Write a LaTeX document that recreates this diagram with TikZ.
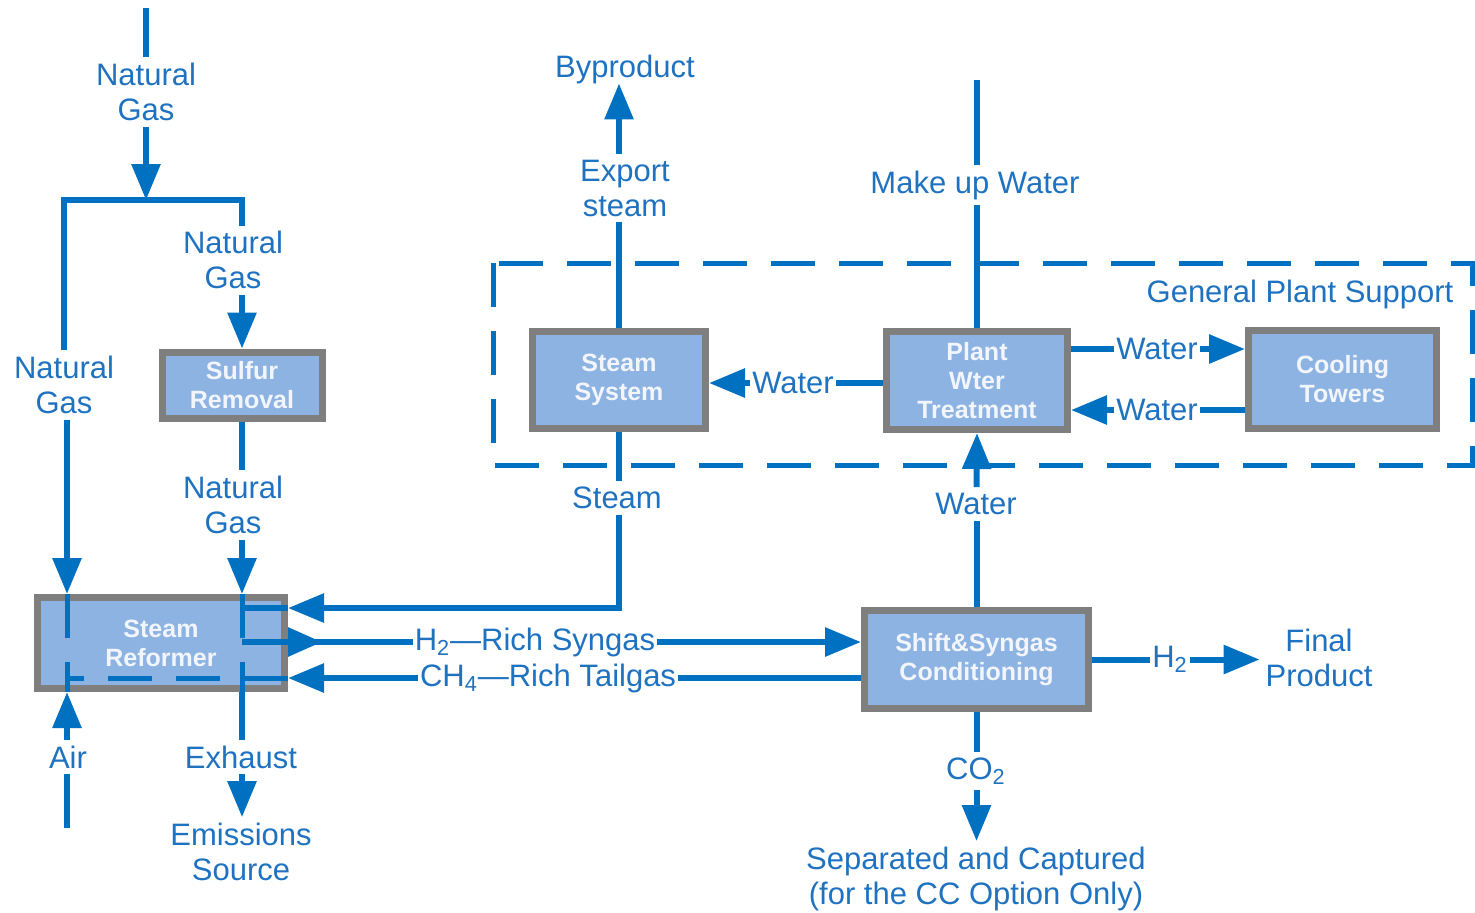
\documentclass[tikz,border=0pt]{standalone}
\usepackage{fontspec}
\setmainfont{Liberation Sans}
\usetikzlibrary{arrows.meta}
\definecolor{lblue}{HTML}{0070C0}
\definecolor{tblue}{HTML}{1F72C0}
\definecolor{boxfill}{HTML}{8DB3E2}
\definecolor{boxedge}{HTML}{7F7F7F}
\definecolor{boxtext}{HTML}{F2F5FB}
\begin{document}
\begin{tikzpicture}[x=0.5pt,y=-0.5pt,
  ln/.style={draw=lblue, line width=3pt},
  arr/.style={ln, -{Triangle[length=18pt,width=14pt]}},
  dsh/.style={draw=lblue, line width=2.5pt, dash pattern=on 22pt off 12pt},
  box/.style={draw=boxedge, fill=boxfill, line width=3.5pt, text=boxtext,
    font=\bfseries\fontsize{12.5}{14.5}\selectfont, align=center, inner sep=0pt},
  lbl/.style={text=tblue, font=\fontsize{15.5}{17.5}\selectfont, align=center,
    inner sep=3pt, outer sep=0pt},
  wlbl/.style={lbl, inner sep=1pt}]
\useasboundingbox (0,0) rectangle (1475,912);

% boxes
\node[box, minimum width=80pt, minimum height=33pt] (sul) at (242,385) {Sulfur\\Removal};
\node[box, minimum width=123.5pt, minimum height=45.5pt] (ref) at (161,643) {Steam\\Reformer};
\node[box, minimum width=86.5pt, minimum height=48.5pt] (ss) at (619,380) {Steam\\System};
\node[box, minimum width=90.5pt, minimum height=49pt] (pwt) at (977,380.5) {Plant\\Wter\\Treatment};
\node[box, minimum width=94pt, minimum height=49pt] (ct) at (1342.5,379.5) {Cooling\\Towers};
\node[box, minimum width=112pt, minimum height=49pt] (sh) at (976.5,659.5) {Shift\&Syngas\\Conditioning};

% helper coordinates
\coordinate (L) at (67,0);
\coordinate (yS) at (0,608);
\coordinate (yH) at (0,642);
\coordinate (yC) at (0,678);
\coordinate (ngtop) at (146,8);
\coordinate (split) at (146,200);
\coordinate (brR) at (242,226);
\coordinate (airbot) at (67,828);
\coordinate (mutop) at (977,80);

% labels
\node[lbl] (ngA) at (146,92) {Natural\\Gas};
\node[lbl] (ngB) at (233,260) {Natural\\Gas};
\node[lbl] (ngC) at (64,385) {Natural\\Gas};
\node[lbl] (ngD) at (233,505) {Natural\\Gas};
\node[lbl] (air) at (68,757) {Air};
\node[lbl] (exh) at (241,757) {Exhaust};
\node[lbl] (emi) at (241,852) {Emissions\\Source};
\node[lbl] (stl) at (617,498) {Steam};
\node[lbl] (exl) at (625,188) {Export\\steam};
\node[lbl, inner sep=0pt] (byp) at (625,69) {Byproduct};
\node[lbl] (mul) at (975,185) {Make up Water};
\node[lbl] (gps) at (1300,294) {General Plant Support};
\node[wlbl] (wl) at (793,383) {Water};
\node[wlbl] (wu) at (1157,349) {Water};
\node[wlbl] (wd) at (1157,410) {Water};
\node[lbl] (wup) at (976,504) {Water};
\node[wlbl] (h2s) at (535,642) {H\textsubscript{2}—Rich Syngas};
\node[wlbl] (ch4) at (548,678) {CH\textsubscript{4}—Rich Tailgas};
\node[wlbl] (h2) at (1170,659.5) {H\textsubscript{2}};
\node[lbl] (fp) at (1319,658) {Final\\Product};
\node[lbl] (co2) at (976,771) {CO\textsubscript{2}};
\node[lbl] (sep) at (976,879) {Separated and Captured\\(for the CC Option Only)};

% plant support frame
\draw[dsh] (493,263) rectangle (1472,465);

% natural gas feed
\draw[ln] (ngtop) -- (ngA.north);
\draw[arr] (ngA.south) -- (split);
\draw[ln] (ngC.north) |- (split) -| (brR);
\draw[arr] (ngC.south -| L) -- (ref.north -| L);
\draw[arr] (sul.north |- ngB.south) -- (sul.north);
\draw[ln] (sul.south) -- (sul.south |- ngD.north);
\draw[arr] (sul.south |- ngD.south) -- (sul.south |- ref.north);

% inside the reformer
\draw[dsh] (L |- ref.north) -- (L |- ref.south);
\draw[dsh] (sul.south |- ref.north) -- (sul.south |- ref.south);
\draw[dsh] (ref.east |- yC) -- (L |- yC);
\draw[ln] (sul.south |- yS) -- (ref.east |- yS);

% air and exhaust
\draw[ln] (airbot) -- (air.south -| L);
\draw[arr] (air.north -| L) -- (ref.south -| L);
\draw[ln] (sul.south |- ref.south) -- (sul.south |- exh.north);
\draw[arr] (sul.south |- exh.south) -- (sul.south |- emi.north);

% steam
\draw[ln] (ss.south) -- (ss.south |- stl.north);
\draw[arr] (ss.south |- stl.south) |- (ref.east |- yS);

% syngas and tailgas
\draw[ln] (sul.south |- yH) -- (h2s.west);
\draw[ln, -{Triangle[length=17pt,width=14pt]}] (ref.east |- yH) -- ++(34,0);
\draw[arr] (h2s.east) -- (sh.west |- yH);
\draw[ln] (sh.west |- yC) -- (ch4.east);
\draw[arr] (ch4.west) -- (ref.east |- yC);

% export steam
\draw[ln] (ss.north) -- (ss.north |- exl.south);
\draw[arr] (ss.north |- exl.north) -- (ss.north |- byp.south);

% make up water
\draw[ln] (mutop) -- (mutop |- mul.north);
\draw[ln] (pwt.north |- mul.south) -- (pwt.north);

% water loops
\draw[ln] (pwt.west |- wl) -- (wl.east);
\draw[arr] (wl.west) -- (ss.east |- wl);
\draw[ln] (pwt.east |- wu) -- (wu.west);
\draw[arr] (wu.east) -- (ct.west |- wu);
\draw[ln] (ct.west |- wd) -- (wd.east);
\draw[arr] (wd.west) -- (pwt.east |- wd);
\draw[ln] (sh.north) -- (sh.north |- wup.south);
\draw[arr] (sh.north |- wup.north) -- (pwt.south);

% products
\draw[ln] (sh.east) -- (h2.west);
\draw[arr] (h2.east) -- (h2.east -| fp.west);
\draw[ln] (sh.south) -- (sh.south |- co2.north);
\draw[arr] (sh.south |- co2.south) -- (sh.south |- sep.north);
\end{tikzpicture}
\end{document}
